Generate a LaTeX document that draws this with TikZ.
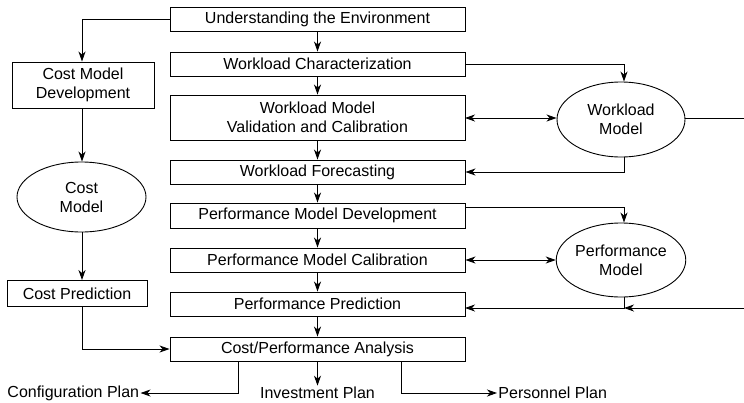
\documentclass[tikz,border=0pt]{standalone}
\usepackage{fontspec}
\setmainfont{Liberation Sans}
\usetikzlibrary{arrows.meta,shapes.geometric}
\begin{document}
\begin{tikzpicture}[x=1pt,y=-1pt,
  font=\fontsize{16}{19}\selectfont,
  line width=0.9pt,
  >={Stealth[length=10pt,width=7pt,inset=3pt]},
  mainbox/.style={draw,rectangle,minimum width=295pt,inner sep=0pt,align=center},
  sidebox/.style={draw,rectangle,inner sep=0pt,align=center},
  model/.style={draw,ellipse,minimum width=128pt,inner sep=0pt,align=center},
  plan/.style={inner sep=1pt}]
\useasboundingbox (0,0) rectangle (744,402);

% main column of activities
\node[mainbox,minimum height=24pt] (env) at (317.5,19) {Understanding the Environment};
\node[mainbox,minimum height=24pt] (wc)  at (317.5,64) {Workload Characterization};
\node[mainbox,minimum height=45pt] (wv) at (317.5,117.5) {Workload Model\\Validation and Calibration};
\node[mainbox,minimum height=24pt] (wf)  at (317.5,172) {Workload Forecasting};
\node[mainbox,minimum height=25pt] (pd)  at (317.5,215.5) {Performance Model Development};
\node[mainbox,minimum height=24pt] (pc)  at (317.5,260) {Performance Model Calibration};
\node[mainbox,minimum height=24pt] (pp)  at (317.5,304) {Performance Prediction};
\node[mainbox,minimum height=24pt] (cpa) at (317.5,349) {Cost/Performance Analysis};

% cost branch
\node[sidebox,minimum width=142pt,minimum height=46pt] (cmd) at (83,85) {Cost Model\\Development};
\node[model,minimum width=129pt,minimum height=70pt] (cm) at (81.5,197) {Cost\\Model};
\node[sidebox,minimum width=140pt,minimum height=26pt] (cp) at (77,293.5) {Cost Prediction};

% models
\node[model,minimum height=75pt] (wm) at (621,119.5) {Workload\\Model};
\node[model,minimum height=74pt] (pm) at (621,260) {Performance\\Model};

% outcomes
\node[plan,anchor=west] (conf) at (6,393) {Configuration Plan};
\node[plan] (inv)  at (317.5,393) {Investment Plan};
\node[plan,anchor=west] (pers) at (497,393) {Personnel Plan};

\coordinate (wout) at (744,118);
\coordinate (pin)  at (744,308);
\coordinate (pj)   at (624,308);

% main flow
\draw[->] (env) -- (wc);
\draw[->] (wc) -- (wv);
\draw[->] (wv) -- (wf);
\draw[->] (wf) -- (pd);
\draw[->] (pd) -- (pc);
\draw[->] (pc) -- (pp);
\draw[->] (pp) -- (cpa);
\draw[->] (cpa) -- (inv);

% cost flow
\draw[->] (env.west) -| (82,0 |- cmd.north);
\draw[->] (82,0 |- cmd.south) -- (82,0 |- cm.north);
\draw[->] (82,0 |- cm.south) -- (82,0 |- cp.north);
\draw[->] (82,0 |- cp.south) |- (cpa.west);

% workload model links
\draw[->] (wc.east) -| (624,0 |- wm.north);
\draw[<->] (465,118) -- (wm.west |- 0,118);
\draw[->] (624,0 |- wm.south) |- (wf.east);
\draw (wm.east |- 0,118) -- (wout);

% performance model links
\draw[->] (465,207) -| (624,0 |- pm.north);
\draw[<->] (pc.east) -- (pm.west);
\draw[->] (624,0 |- pm.south) -- (pj) -- (465,308);
\draw[->] (pin) -- (pj);

% plans
\draw[->] (238,0 |- cpa.south) |- (conf.east);
\draw[->] (401,0 |- cpa.south) |- (pers.west);
\end{tikzpicture}
\end{document}
